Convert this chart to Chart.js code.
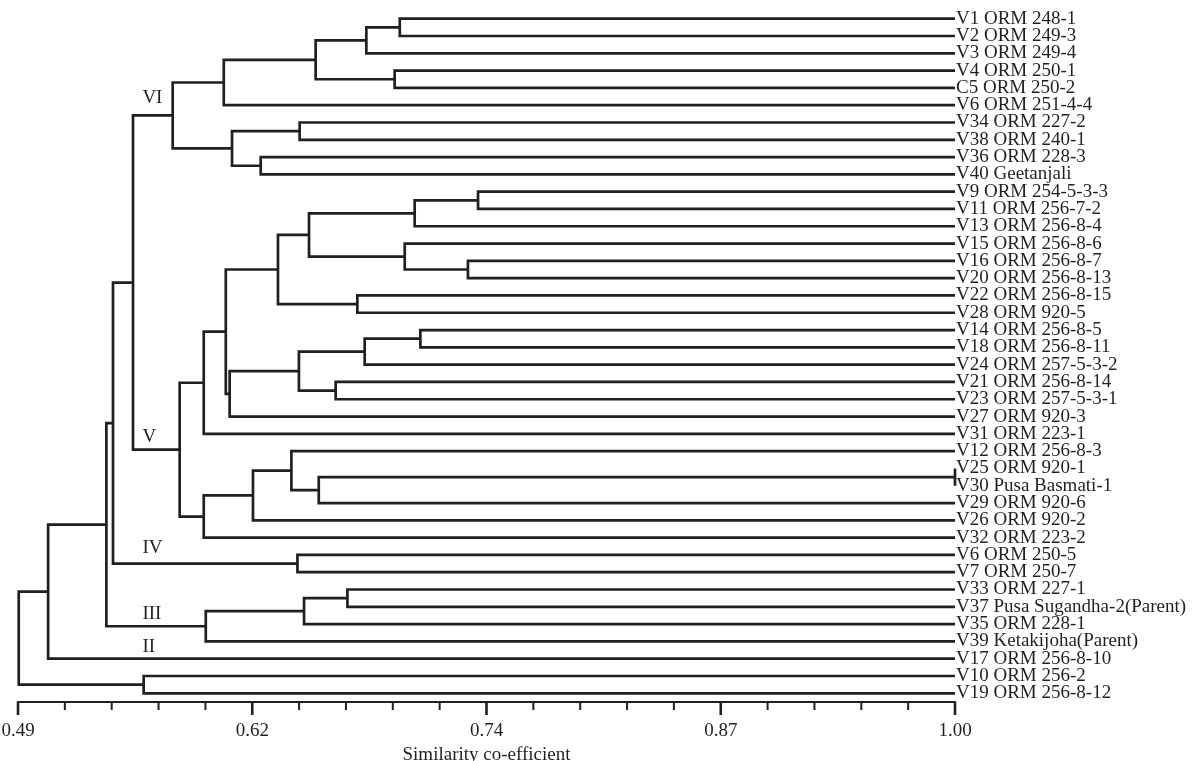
<!DOCTYPE html>
<html><head><meta charset="utf-8">
<script src="https://cdn.jsdelivr.net/npm/chart.js@4.4.1/dist/chart.umd.min.js"></script>
<style>html,body{margin:0;padding:0;background:#fff}#wrap{width:1193px;height:761px;position:relative}</style>
</head><body><div id="wrap"><canvas id="c"></canvas></div>
<script>
// ---- data ----
const leafLabels = [
  'V1 ORM 248-1','V2 ORM 249-3','V3 ORM 249-4','V4 ORM 250-1','C5 ORM 250-2','V6 ORM 251-4-4',
  'V34 ORM 227-2','V38 ORM 240-1','V36 ORM 228-3','V40 Geetanjali',
  'V9 ORM 254-5-3-3','V11 ORM 256-7-2','V13 ORM 256-8-4','V15 ORM 256-8-6','V16 ORM 256-8-7',
  'V20 ORM 256-8-13','V22 ORM 256-8-15','V28 ORM 920-5','V14 ORM 256-8-5','V18 ORM 256-8-11',
  'V24 ORM 257-5-3-2','V21 ORM 256-8-14','V23 ORM 257-5-3-1','V27 ORM 920-3','V31 ORM 223-1',
  'V12 ORM 256-8-3','V25 ORM 920-1','V30 Pusa Basmati-1','V29 ORM 920-6','V26 ORM 920-2',
  'V32 ORM 223-2','V6 ORM 250-5','V7 ORM 250-7','V33 ORM 227-1','V37 Pusa Sugandha-2(Parent)',
  'V35 ORM 228-1','V39 Ketakijoha(Parent)','V17 ORM 256-8-10','V10 ORM 256-2','V19 ORM 256-8-12'
];
// merges: node id = leaves count + merge index
const mergeLeft  = [0,40,3,41,43,6,8,45,44, 10,49,14,13,50,16,53,18,56,21,57,59,55,61, 26,63,25,65,66, 62,48,31,69,33,72,73,71,75,38,76];
const mergeRight = [1, 2,4,42, 5,7,9,46,47, 11,12,15,51,52,17,54,19,20,22,58,23,60,24, 27,28,64,29,30, 67,68,32,70,34,35,36,74,37,39,77];
const mergeSimilarity = [
  0.6978,0.6796,0.6950,0.6520,0.6020,0.6433,0.6221,0.6065,0.5742,
  0.7404,0.7059,0.7349,0.7005,0.6484,0.6747,0.6315,0.7090,0.6787,0.6629,0.6429,0.6052,0.6031,0.5911,
  1.0000,0.6537,0.6388,0.6179,0.5911,
  0.5780,0.5526,0.6421,0.5417,0.6693,0.6457,0.5922,0.5381,0.5064,0.5584,0.4904
];
const xTickLabels = ['0.49','0.62','0.74','0.87','1.00'];
const clusterNames = ['VI','V','IV','III','II'];
const xMin = 0.49, xMax = 1.00;

// ---- styles / layout ----
const ink = '#231f20';
const serif = "'Liberation Serif','Times New Roman',serif";
const minorDiv = 5;
const clusterLabelAnchor = { x: 0.5577, y: [4.6, 24.16, 30.6, 34.4, 36.3] };

const N = leafLabels.length;
const nodeX = [], nodeY = [];
for (let i = 0; i < N; i++) { nodeX[i] = xMax; nodeY[i] = i; }
const datasets = [];
mergeSimilarity.forEach((s, k) => {
  const a = mergeLeft[k], b = mergeRight[k];
  const id = N + k;
  nodeX[id] = s; nodeY[id] = (nodeY[a] + nodeY[b]) / 2;
  datasets.push({
    data: [{x: nodeX[a], y: nodeY[a]}, {x: s, y: nodeY[a]}, {x: s, y: nodeY[b]}, {x: nodeX[b], y: nodeY[b]}],
    borderColor: ink, borderWidth: 2.7, pointRadius: 0, tension: 0, fill: false,
    borderJoinStyle: 'miter', borderCapStyle: 'butt', clip: false
  });
});

const decor = {
  id: 'decor',
  afterDraw(chart) {
    const {ctx, scales: {x, y}} = chart;
    ctx.save();
    ctx.strokeStyle = ink;
    x.ticks.forEach((t, i) => {
      const px = x.getPixelForValue(t.value);
      const major = i % minorDiv === 0;
      ctx.lineWidth = major ? 2.6 : 2;
      ctx.beginPath();
      ctx.moveTo(px, x.top);
      ctx.lineTo(px, x.top + (major ? 13 : 8));
      ctx.stroke();
    });
    ctx.fillStyle = ink;
    ctx.font = '19px ' + serif;
    ctx.textAlign = 'left';
    ctx.textBaseline = 'middle';
    clusterNames.forEach((n, i) => {
      ctx.fillText(n, x.getPixelForValue(clusterLabelAnchor.x), y.getPixelForValue(clusterLabelAnchor.y[i]));
    });
    ctx.restore();
  }
};

new Chart(document.getElementById('c'), {
  type: 'line',
  data: { datasets },
  options: {
    responsive: true, maintainAspectRatio: false, animation: false,
    layout: { padding: { left: 18, top: 0, right: 0, bottom: 0 } },
    plugins: { legend: { display: false }, tooltip: { enabled: false } },
    scales: {
      x: {
        type: 'linear', position: 'bottom', min: xMin, max: xMax,
        afterBuildTicks: s => {
          const n = (xTickLabels.length - 1) * minorDiv;
          s.ticks = Array.from({length: n + 1}, (_, i) => ({value: xMin + (xMax - xMin) * i / n}));
        },
        ticks: {
          autoSkip: false, maxRotation: 0, minRotation: 0, padding: 5, color: ink,
          font: {family: serif, size: 19},
          callback: (v, i) => i % minorDiv === 0 ? xTickLabels[i / minorDiv] : ''
        },
        grid: { display: true, drawOnChartArea: false, drawTicks: true, tickLength: 13, tickColor: 'rgba(0,0,0,0)' },
        border: { display: true, color: ink, width: 2 },
        title: { display: true, text: 'Similarity co-efficient', color: ink,
                 font: {family: serif, size: 19, lineHeight: 0.6}, padding: 0 },
        afterFit: s => { s.height = 59; s.paddingLeft = 0; s.paddingRight = 0; }
      },
      y: {
        type: 'linear', position: 'right', reverse: true, min: -1.081, max: 39.503,
        afterBuildTicks: s => { s.ticks = leafLabels.map((_, i) => ({value: i})); },
        ticks: { autoSkip: false, padding: 1, color: ink, font: {family: serif, size: 19},
                 callback: (v) => leafLabels[v] },
        grid: { display: false, drawTicks: false },
        border: { display: false },
        afterFit: s => { s.width = 238; s.paddingTop = 0; s.paddingBottom = 0; }
      }
    }
  },
  plugins: [decor]
});
</script></body></html>
